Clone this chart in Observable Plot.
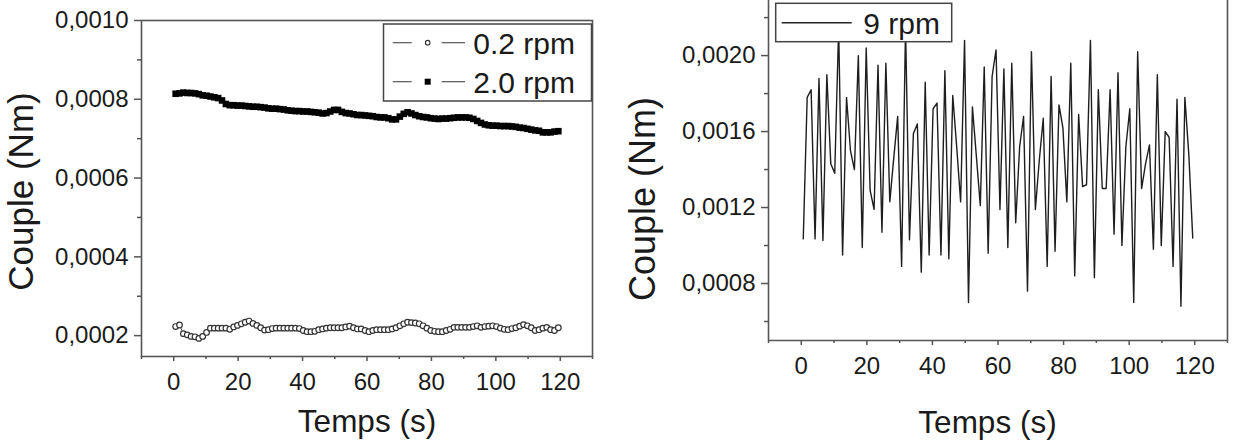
<!DOCTYPE html>
<html>
<head>
<meta charset="utf-8">
<script src="https://cdn.jsdelivr.net/npm/d3@7"></script>
<script src="https://cdn.jsdelivr.net/npm/@observablehq/plot@0.6"></script>
<style>
  html, body { margin: 0; padding: 0; background: #fff; }
  #fig { position: relative; width: 1233px; height: 445px; overflow: hidden; background: #fff; }
  #fig svg { position: absolute; top: 0; }
</style>
</head>
<body>
<div id="fig"></div>
<script>
// Torque readings, sampled every 1.2 s
const timeStart = 0.6;      // s
const samplePeriod = 1.2;   // s

// 0.2 rpm (Nm)
const torque02 = [
  0.000223,0.000227,0.000205,0.000202,0.000198,0.000197,0.000193,0.000198,0.000208,0.000219,
  0.000219,0.000219,0.000219,0.000219,0.000216,0.000222,0.000226,0.000230,0.000234,0.000237,
  0.000231,0.000226,0.000220,0.000214,0.000215,0.000218,0.000219,0.000219,0.000219,0.000219,
  0.000219,0.000219,0.000218,0.000213,0.000210,0.000210,0.000211,0.000215,0.000217,0.000219,
  0.000220,0.000220,0.000220,0.000220,0.000222,0.000224,0.000220,0.000217,0.000217,0.000213,
  0.000210,0.000213,0.000215,0.000215,0.000215,0.000215,0.000217,0.000220,0.000225,0.000230,
  0.000234,0.000233,0.000232,0.000230,0.000225,0.000219,0.000213,0.000211,0.000210,0.000210,
  0.000213,0.000216,0.000221,0.000221,0.000221,0.000221,0.000221,0.000223,0.000225,0.000221,
  0.000223,0.000224,0.000225,0.000223,0.000219,0.000216,0.000215,0.000218,0.000220,0.000224,
  0.000228,0.000225,0.000220,0.000213,0.000215,0.000219,0.000221,0.000215,0.000213,0.000220
];

// 2.0 rpm (Nm)
const torque20 = [
  0.000814,0.000815,0.000817,0.000816,0.000816,0.000815,0.000813,0.000810,0.000809,0.000807,
  0.000805,0.000803,0.000797,0.000788,0.000785,0.000785,0.000784,0.000784,0.000783,0.000782,
  0.000781,0.000781,0.000780,0.000779,0.000777,0.000776,0.000776,0.000775,0.000774,0.000772,
  0.000771,0.000770,0.000770,0.000769,0.000769,0.000768,0.000767,0.000766,0.000764,0.000765,
  0.000769,0.000773,0.000773,0.000768,0.000765,0.000764,0.000762,0.000760,0.000760,0.000759,
  0.000758,0.000757,0.000755,0.000754,0.000754,0.000752,0.000749,0.000749,0.000756,0.000763,
  0.000767,0.000764,0.000760,0.000757,0.000755,0.000754,0.000752,0.000751,0.000750,0.000751,
  0.000751,0.000752,0.000753,0.000754,0.000754,0.000754,0.000753,0.000750,0.000745,0.000740,
  0.000736,0.000734,0.000733,0.000733,0.000732,0.000732,0.000732,0.000731,0.000730,0.000728,
  0.000727,0.000725,0.000723,0.000721,0.000720,0.000716,0.000716,0.000716,0.000718,0.000719
];

// 9 rpm (Nm)
const torque9 = [
  0.001035,0.00178,0.00182,0.001035,0.00188,0.001026,0.0019,0.00143,0.00138,0.00215,
  0.00095,0.00178,0.0015,0.0014,0.0020,0.00099,0.00204,0.00129,0.00119,0.00195,
  0.00107,0.00196,0.00123,0.00146,0.00168,0.00089,0.00215,0.00103,0.00159,0.00164,
  0.00086,0.00186,0.00095,0.00172,0.00175,0.00095,0.00192,0.00093,0.00179,0.00152,
  0.00123,0.00208,0.0007,0.00173,0.00147,0.00121,0.00194,0.00096,0.00189,0.00203,
  0.00119,0.00193,0.00099,0.00196,0.00112,0.00152,0.00168,0.00076,0.00202,0.00119,
  0.00145,0.00167,0.00089,0.00189,0.00097,0.00174,0.00162,0.00123,0.00196,0.00084,
  0.00169,0.00131,0.00132,0.00208,0.00083,0.00182,0.0013,0.0013,0.00182,0.00106,
  0.00191,0.0010,0.00152,0.00172,0.0007,0.00202,0.0013,0.00143,0.00153,0.00098,
  0.0019,0.0010,0.0016,0.00157,0.00089,0.00177,0.00068,0.00178,0.00148,0.00104
];

// Axes
const xTicks = [0, 20, 40, 60, 80, 100, 120];
const xMinorTicks = [-10, 10, 30, 50, 70, 90, 110, 130];
const leftYTicks = [0.0002, 0.0004, 0.0006, 0.0008, 0.0010];
const leftYMinorTicks = [0.0003, 0.0005, 0.0007, 0.0009];
const rightYTicks = [0.0008, 0.0012, 0.0016, 0.0020];
const rightYMinorTicks = [0.0006, 0.0010, 0.0014, 0.0018, 0.0022];
const xLabel = "Temps (s)";
const yLabel = "Couple (Nm)";
const seriesLabels = ["0.2 rpm", "2.0 rpm", "9 rpm"];

const FONT = "'Liberation Sans', Arial, Helvetica, sans-serif";
const INK = "#1a1a1a";
const AXIS = "#555";
const fmtY = d => d.toFixed(4).replace(".", ",");

const toRows = vals => vals.map((v, i) => ({t: timeStart + i * samplePeriod, v}));
const rows02 = toRows(torque02);
const rows20 = toRows(torque20);
const rows9 = toRows(torque9);

function axes(yTicks, yMinor) {
  const common = {label: null, stroke: AXIS, strokeWidth: 1.5, fill: INK, fontSize: 24, fontFamily: FONT};
  return [
    Plot.axisX({...common, ticks: xTicks, tickSize: 5, tickPadding: 11, tickFormat: d => String(d)}),
    Plot.axisX({...common, ticks: xMinorTicks, tickSize: 3, tickFormat: () => ""}),
    Plot.axisY({...common, ticks: yTicks, tickSize: 7, tickPadding: 6, tickFormat: fmtY}),
    Plot.axisY({...common, ticks: yMinor, tickSize: 4, tickFormat: () => ""})
  ];
}

const baseStyle = {fontFamily: FONT, fontSize: "24px", color: INK, background: "transparent", overflow: "visible"};

// Left panel: 0.2 rpm and 2.0 rpm
const left = Plot.plot({
  width: 600, height: 445,
  marginLeft: 141, marginRight: 8, marginTop: 20, marginBottom: 89,
  style: baseStyle,
  x: {domain: [-10, 130]},
  y: {domain: [0.000147, 0.0010]},
  marks: [
    Plot.line(rows20, {x: "t", y: "v", stroke: "#111", strokeWidth: 1.5}),
    Plot.dot(rows20, {x: "t", y: "v", symbol: "square", r: 3.7, fill: "#000"}),
    Plot.line(rows02, {x: "t", y: "v", stroke: "#555", strokeWidth: 1}),
    Plot.dot(rows02, {x: "t", y: "v", r: 2.8, fill: "#fff", stroke: "#333", strokeWidth: 1.2}),
    Plot.frame({stroke: AXIS, strokeWidth: 1.6}),
    ...axes(leftYTicks, leftYMinorTicks)
  ]
});
left.style.left = "0px";

// Right panel: 9 rpm
const right = Plot.plot({
  width: 633, height: 445,
  marginLeft: 168, marginRight: 6, marginTop: 0, marginBottom: 105,
  style: baseStyle,
  x: {domain: [-10, 130]},
  y: {domain: [0.0005, 0.00229]},
  marks: [
    Plot.line(rows9, {x: "t", y: "v", stroke: "#1e1e1e", strokeWidth: 1.4}),
    Plot.ruleX([-10, 130], {stroke: AXIS, strokeWidth: 1.6}),
    Plot.ruleY([0.0005], {stroke: AXIS, strokeWidth: 1.6}),
    ...axes(rightYTicks, rightYMinorTicks)
  ]
});
right.style.left = "600px";

const fig = document.getElementById("fig");
fig.append(left, right);

// Axis titles
function titles(svg, xCenter, xBase, yCenter, yBase, ySize) {
  const s = d3.select(svg);
  s.append("text")
    .attr("x", xCenter).attr("y", xBase)
    .attr("text-anchor", "middle")
    .attr("font-family", FONT).attr("font-size", 31.5).attr("fill", INK)
    .text(xLabel);
  s.append("text")
    .attr("transform", `translate(${yBase},${yCenter}) rotate(-90)`)
    .attr("text-anchor", "middle")
    .attr("font-family", FONT).attr("font-size", ySize).attr("fill", INK)
    .text(yLabel);
}
titles(left, 367, 432, 191.5, 33, 35);
titles(right, 387.5, 433, 199, 55, 36);

// Legends
function legendBox(s, x, y, w, h) {
  s.append("rect").attr("x", x).attr("y", y).attr("width", w).attr("height", h)
    .attr("fill", "#fff").attr("stroke", "#444").attr("stroke-width", 1.5);
}
function legendText(s, x, y, label) {
  s.append("text").attr("x", x).attr("y", y)
    .attr("text-anchor", "start")
    .attr("font-family", FONT).attr("font-size", 30).attr("fill", INK)
    .text(label);
}
{
  const s = d3.select(left);
  legendBox(s, 383.5, 24, 208, 77);
  const rowsY = [42.7, 81.7];
  rowsY.forEach((yy, k) => {
    s.append("line").attr("x1", 392.7).attr("x2", 411.7).attr("y1", yy).attr("y2", yy)
      .attr("stroke", "#555").attr("stroke-width", 1.2);
    s.append("line").attr("x1", 441.7).attr("x2", 465).attr("y1", yy).attr("y2", yy)
      .attr("stroke", "#555").attr("stroke-width", 1.2);
    legendText(s, 473.3, yy + 11.5, seriesLabels[k]);
  });
  s.append("circle").attr("cx", 427.7).attr("cy", rowsY[0]).attr("r", 2.3)
    .attr("fill", "#fff").attr("stroke", "#333").attr("stroke-width", 1.1);
  s.append("rect").attr("x", 424.7).attr("y", rowsY[1] - 3).attr("width", 6).attr("height", 6)
    .attr("fill", "#000");
}
{
  const s = d3.select(right);
  legendBox(s, 175.7, 3.3, 176, 38.4);
  s.append("line").attr("x1", 181.7).attr("x2", 251.7).attr("y1", 22.7).attr("y2", 22.7)
    .attr("stroke", "#222").attr("stroke-width", 1.4);
  legendText(s, 263.3, 33.6, seriesLabels[2]);
}
</script>
</body>
</html>
